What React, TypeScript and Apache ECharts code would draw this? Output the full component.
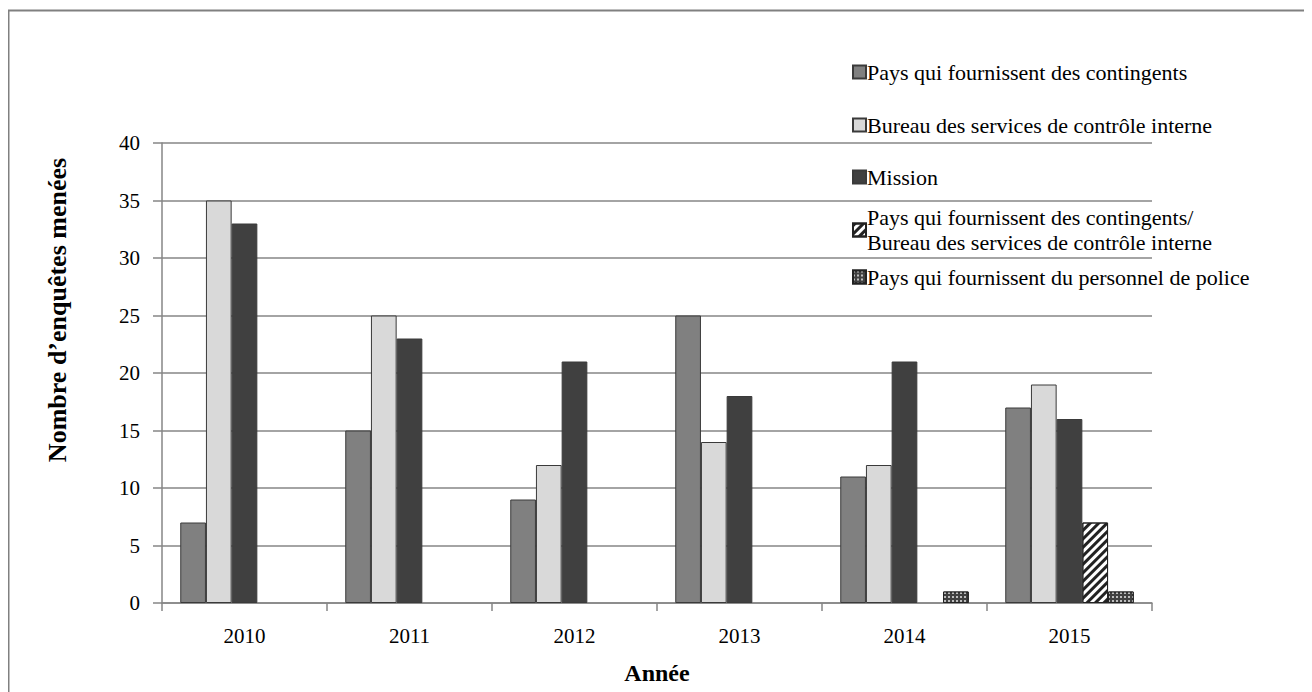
import React, { useEffect, useRef } from "react";
import * as echarts from "echarts";

const years = ["2010", "2011", "2012", "2013", "2014", "2015"];
const seriesNames = [
  "Pays qui fournissent des contingents",
  "Bureau des services de contrôle interne",
  "Mission",
  "Pays qui fournissent des contingents/\nBureau des services de contrôle interne",
  "Pays qui fournissent du personnel de police",
];
const contingents = [7, 15, 9, 25, 11, 17];
const bureau = [35, 25, 12, 14, 12, 19];
const mission = [33, 23, 21, 18, 21, 16];
const mixte = [0, 0, 0, 0, 0, 7];
const police = [0, 0, 0, 0, 1, 1];
const yTicks = { min: 0, max: 40, interval: 5 };
const yTitle = "Nombre d’enquêtes menées";
const xTitle = "Année";

const FONT = "'Liberation Serif', 'Times New Roman', serif";

export default function App() {
  const ref = useRef<HTMLDivElement>(null);
  useEffect(() => {
    if (!ref.current) return;
    const chart = echarts.init(ref.current, null, { renderer: "svg" });
    const gridColor = "#868686";
    const border = "#3a3a3a";
    const values = [contingents, bureau, mission, mixte, police];
    const styles: any[] = [
      { color: "#808080", borderColor: border, borderWidth: 1 },
      { color: "#d9d9d9", borderColor: border, borderWidth: 1 },
      { color: "#404040", borderColor: border, borderWidth: 1 },
      {
        color: "#ffffff",
        borderColor: "#222",
        borderWidth: 1,
        decal: {
          symbol: "rect",
          symbolSize: 1,
          color: "#222",
          dashArrayX: [1, 0],
          dashArrayY: [3, 3],
          rotation: -Math.PI / 4,
        },
      },
      {
        color: "#404040",
        borderColor: "#222",
        borderWidth: 1,
        decal: {
          symbol: "rect",
          symbolSize: 1,
          color: "#bdbdbd",
          dashArrayX: [2, 2],
          dashArrayY: [2, 2],
          rotation: 0,
        },
      },
    ];
    const legendTops = [53, 106, 158, 197, 258];
    const option: any = {
      animation: false,
      textStyle: { fontFamily: FONT },
      grid: { left: 154, right: 160, top: 135, bottom: 89, containLabel: false },
      legend: seriesNames.map((n, i) => ({
        data: [n],
        orient: "vertical",
        left: 844,
        top: legendTops[i],
        icon: "rect",
        itemWidth: 13,
        itemHeight: 13,
        padding: 0,
        selectedMode: false,
        textStyle: {
          fontFamily: FONT,
          fontSize: 22,
          color: "#000",
          lineHeight: i === 3 ? 25 : 22,
          padding: [0, 0, 0, -4],
        },
      })),
      graphic: [
        { type: "line", shape: { x1: 0, y1: 2.5, x2: 1304, y2: 2.5 }, style: { stroke: "#808080", lineWidth: 2 } },
        { type: "line", shape: { x1: 0.5, y1: 2, x2: 0.5, y2: 684 }, style: { stroke: "#808080", lineWidth: 2 } },
        {
          type: "text",
          x: 49,
          y: 302,
          rotation: Math.PI / 2,
          style: {
            text: yTitle,
            fontFamily: FONT,
            fontSize: 26,
            fontWeight: "bold",
            fill: "#000",
            align: "center",
            verticalAlign: "middle",
          },
        },
      ],
      xAxis: {
        type: "category",
        data: years,
        boundaryGap: true,
        name: xTitle,
        nameLocation: "middle",
        nameGap: 58,
        nameTextStyle: { fontFamily: FONT, fontSize: 24, fontWeight: "bold", color: "#000" },
        axisLine: { show: true, lineStyle: { color: gridColor, width: 1.5 } },
        axisTick: { show: true, length: 8, interval: 0, lineStyle: { color: gridColor, width: 1.5 } },
        axisLabel: { fontFamily: FONT, fontSize: 21, color: "#000", margin: 22 },
      },
      yAxis: {
        type: "value",
        min: yTicks.min,
        max: yTicks.max,
        interval: yTicks.interval,
        axisLine: { show: true, lineStyle: { color: gridColor, width: 1.5 } },
        axisTick: { show: true, length: 9, lineStyle: { color: gridColor, width: 1.5 } },
        axisLabel: { fontFamily: FONT, fontSize: 21, color: "#000", margin: 22 },
        splitLine: { show: true, lineStyle: { color: gridColor, width: 1.5 } },
      },
      series: seriesNames.map((n, i) => ({
        name: n,
        type: "bar",
        data: values[i].map((v) => (v === 0 ? { value: v, itemStyle: { borderWidth: 0 } } : v)),
        barWidth: 25.7,
        barGap: "0%",
        itemStyle: styles[i],
        emphasis: { disabled: true },
      })),
    };
    chart.setOption(option);
    return () => chart.dispose();
  }, []);
  return <div ref={ref} style={{ width: 1304, height: 684 }} />;
}
